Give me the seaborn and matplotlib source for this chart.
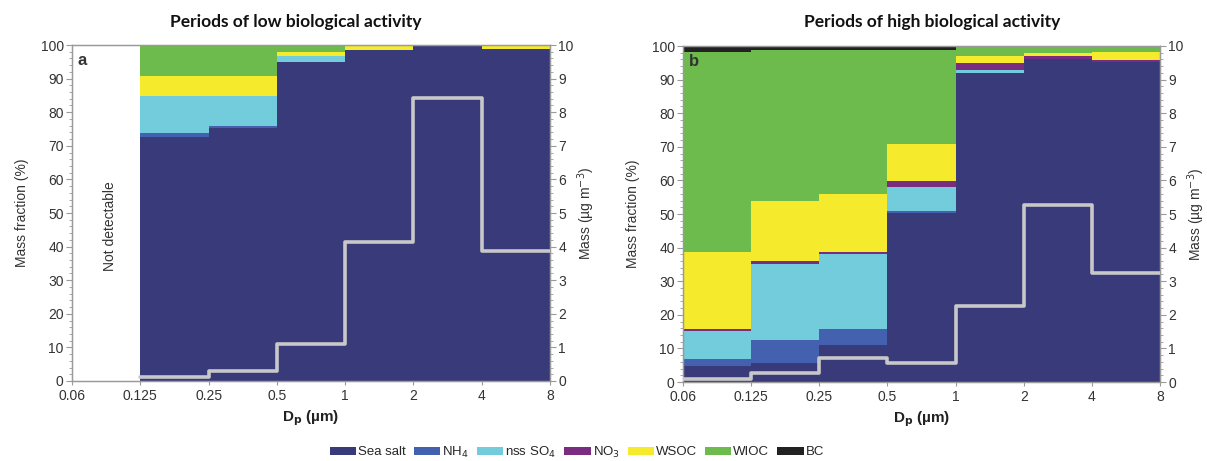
import numpy as np
import pandas as pd
import matplotlib
matplotlib.use("Agg")
import matplotlib.pyplot as plt
from matplotlib.patches import Patch
from matplotlib.ticker import MultipleLocator
import seaborn as sns

# ---------------- data ----------------
bin_labels = ["0.06", "0.125", "0.25", "0.5", "1", "2", "4", "8"]   # bin edges (µm)
components = ["Sea salt", "NH4", "nss SO4", "NO3", "WSOC", "WIOC", "BC"]
legend_labels = ["Sea salt", "NH$_4$", "nss SO$_4$", "NO$_3$", "WSOC", "WIOC", "BC"]
colors = ["#393a7a", "#4361ae", "#72ccdb", "#7a2c80", "#f5ea2b", "#6dbb4c", "#222222"]

# Panel a: low biological activity (first bin not detectable -> NaN)
low_sea_salt = [np.nan, 72.7, 75.2, 94.8, 98.6, 100.0, 98.8]
low_nh4      = [np.nan, 1.0, 0.6, 0.0, 0.0, 0.0, 0.0]
low_so4      = [np.nan, 11.1, 9.0, 1.9, 0.0, 0.0, 0.0]
low_no3      = [np.nan, 0.0, 0.0, 0.0, 0.0, 0.0, 0.0]
low_wsoc     = [np.nan, 6.1, 6.1, 1.1, 1.0, 0.0, 1.0]
low_wioc     = [np.nan, 9.1, 9.1, 2.2, 0.4, 0.0, 0.2]
low_bc       = [np.nan, 0.0, 0.0, 0.0, 0.0, 0.0, 0.0]
low_mass     = [np.nan, 0.13, 0.31, 1.09, 4.14, 8.41, 3.88]

# Panel b: high biological activity
high_sea_salt = [4.7, 5.7, 10.9, 50.2, 92.0, 96.1, 95.1]
high_nh4      = [2.0, 6.9, 4.8, 0.8, 0.0, 0.0, 0.0]
high_so4      = [8.4, 22.4, 22.3, 6.9, 0.9, 0.0, 0.0]
high_no3      = [0.8, 0.9, 0.8, 1.9, 2.0, 1.0, 0.8]
high_wsoc     = [22.9, 18.0, 17.2, 11.1, 2.0, 0.8, 2.2]
high_wioc     = [59.3, 45.0, 42.9, 28.0, 3.1, 2.1, 1.9]
high_bc       = [1.9, 1.1, 1.1, 1.1, 0.0, 0.0, 0.0]
high_mass     = [0.10, 0.27, 0.70, 0.57, 2.26, 5.27, 3.23]

titles = ["Periods of low biological activity", "Periods of high biological activity"]
panel_letters = ["a", "b"]

# ---------------- style ----------------
sns.set_theme(style="white")
plt.rcParams["font.family"] = ["Liberation Sans", "DejaVu Sans"]
plt.rcParams["axes.edgecolor"] = "#9a9a9a"
plt.rcParams["xtick.color"] = "#9a9a9a"
plt.rcParams["ytick.color"] = "#9a9a9a"
plt.rcParams["xtick.labelcolor"] = "#333333"
plt.rcParams["ytick.labelcolor"] = "#333333"

palette = dict(zip(components, colors))
n_bins = len(bin_labels) - 1
edges = np.arange(n_bins + 1)


def make_frame(series):
    rows = []
    for comp, vals in zip(components, series):
        for i, v in enumerate(vals):
            if not np.isnan(v) and v > 0:
                rows.append({"bin": i + 0.5, "component": comp, "value": v})
    return pd.DataFrame(rows)


low_df = make_frame([low_sea_salt, low_nh4, low_so4, low_no3, low_wsoc, low_wioc, low_bc])
high_df = make_frame([high_sea_salt, high_nh4, high_so4, high_no3, high_wsoc, high_wioc, high_bc])

W, H = 1207, 461
fig = plt.figure(figsize=(W / 100, H / 100), dpi=100)
ax_a = fig.add_axes([72 / W, 1 - 381 / H, (550 - 72) / W, (381 - 45) / H])
ax_b = fig.add_axes([683 / W, 1 - 382 / H, (1160 - 683) / W, (382 - 46) / H])

for k, (ax, df, mass) in enumerate([(ax_a, low_df, low_mass), (ax_b, high_df, high_mass)]):
    sns.histplot(data=df, x="bin", weights="value", hue="component",
                 hue_order=components[::-1], palette=palette, multiple="stack",
                 bins=n_bins, binrange=(0, n_bins), element="bars", linewidth=0,
                 alpha=1, shrink=1, legend=False, ax=ax)
    ax.set_xlim(0, n_bins)
    ax.set_ylim(0, 100)
    ax.set_xticks(edges)
    ax.set_xticklabels(bin_labels, fontsize=10)
    ax.yaxis.set_major_locator(MultipleLocator(10))
    ax.yaxis.set_minor_locator(MultipleLocator(2))
    ax.tick_params(axis="y", which="major", length=4, width=0.8, labelsize=10, pad=2)
    ax.tick_params(axis="y", which="minor", length=2, width=0.6)
    ax.tick_params(axis="x", which="major", length=3, width=0.8, pad=3)
    ax.tick_params(left=True, bottom=True)
    ax.set_ylabel("Mass fraction (%)", fontsize=10, color="#333333", labelpad=8)
    ax.set_xlabel("D$_\\mathbf{p}$ (µm)", fontsize=11, fontweight="bold", color="#222222", labelpad=4)
    for sp in ax.spines.values():
        sp.set_linewidth(0.9)

    # mass size distribution (right axis)
    ax2 = ax.twinx()
    mass_x = list(edges)
    mass_y = list(mass) + [mass[-1]]
    line_df = pd.DataFrame({"x": mass_x, "y": mass_y}).dropna()
    sns.lineplot(data=line_df, x="x", y="y", drawstyle="steps-post", color="#c8c8c8",
                 linewidth=2.6, ax=ax2, zorder=5)
    ax2.set_ylim(0, 10)
    ax2.set_xlim(0, n_bins)
    ax2.yaxis.set_major_locator(MultipleLocator(1))
    ax2.yaxis.set_minor_locator(MultipleLocator(0.2))
    ax2.tick_params(axis="y", which="major", length=4, width=0.8, labelsize=10, pad=2, right=True)
    ax2.tick_params(axis="y", which="minor", length=2, width=0.6, right=True)
    ax2.set_ylabel("Mass (µg m$^{-3}$)", fontsize=10, color="#333333", labelpad=1)
    ax2.set_xlabel("")
    for sp in ax2.spines.values():
        sp.set_linewidth(0.9)

    ax.text(0.012, 0.975, panel_letters[k], transform=ax.transAxes, fontsize=12,
            fontweight="bold", color="#333333", va="top", ha="left", zorder=10)

ax_a.text(0.55, 46, "Not detectable", rotation=90, ha="center", va="center",
          fontsize=10, color="#333333")

fig.text(296 / W, 1 - 22 / H, titles[0], ha="center", va="center", fontsize=12.5,
         fontweight="bold", family=["Lato", "DejaVu Sans"], color="#111111")
fig.text(932 / W, 1 - 22 / H, titles[1], ha="center", va="center", fontsize=12.5,
         fontweight="bold", family=["Lato", "DejaVu Sans"], color="#111111")

handles = [Patch(facecolor=c, edgecolor="none") for c in colors]
fig.legend(handles, legend_labels, loc="center", bbox_to_anchor=(577 / W, 1 - 452 / H),
           ncol=7, frameon=False, fontsize=9.5, handlelength=2.0, handleheight=0.6,
           handletextpad=0.15, columnspacing=0.6, borderaxespad=0)

fig.savefig("out.png", dpi=100)
